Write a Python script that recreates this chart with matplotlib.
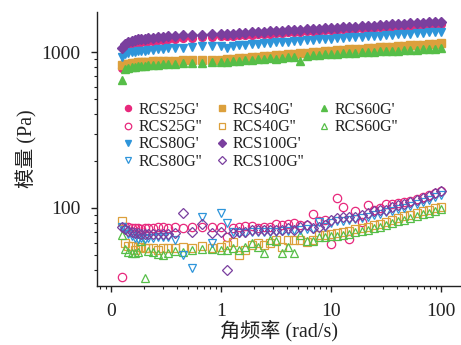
import numpy as np
import matplotlib
matplotlib.use('Agg')
import matplotlib.pyplot as plt
from matplotlib.lines import Line2D

plt.rcParams['font.family'] = ['Liberation Serif', 'Noto Sans CJK SC']

# 角频率 (rad/s)
freq = [0.126, 0.134, 0.143, 0.154, 0.165, 0.176, 0.189, 0.204, 0.217, 0.241,
        0.268, 0.297, 0.33, 0.382, 0.451, 0.545, 0.672, 0.828,
        1.0, 1.136, 1.29, 1.468, 1.668, 1.896, 2.154, 2.448, 2.783, 3.162,
        3.594, 4.084, 4.642, 5.275, 5.995, 6.813, 7.743, 8.799,
        10.0, 11.36, 12.9, 14.68, 16.68, 18.96, 21.54, 24.48, 27.83, 31.62,
        35.94, 40.84, 46.42, 52.75, 59.95, 68.13, 77.43, 87.99, 100.0]

# 储能模量 G'
rcs25_gp = [790, 1060, 1100, 1125, 1140, 1150, 1160, 1168, 1176, 1185, 1195, 1200, 1207, 1215,
            1225, 1235, 1243, 1250, 1260, 1268, 1274, 1280, 1287, 1294, 1301, 1308, 1314, 1321,
            1328, 1335, 1342, 1348, 1356, 1363, 1370, 1377, 1383, 1391, 1398, 1405, 1412, 1419,
            1427, 1434, 1441, 1448, 1456, 1464, 1471, 1478, 1486, 1494, 1502, 1509, 1517]
rcs40_gp = [825, 835, 843, 850, 854, 858, 861, 864, 867, 870, 873, 876, 879, 882, 885, 887,
            889, 890, 890, 897, 904, 911, 918, 925, 932, 939, 947, 954, 961, 969, 976, 984,
            991, 999, 1007, 1015, 1021, 1027, 1033, 1039, 1045, 1052, 1058, 1064, 1071, 1077,
            1084, 1090, 1097, 1103, 1110, 1117, 1123, 1130, 1137]
rcs60_gp = [662, 778, 790, 797, 803, 808, 813, 818, 822, 826, 830, 834, 838, 843, 848, 852,
            856, 859, 860, 866, 872, 878, 884, 890, 896, 902, 909, 905, 921, 928, 934, 880,
            947, 954, 960, 967, 971, 976, 980, 985, 989, 994, 999, 1003, 1008, 1013, 1017,
            1022, 1027, 1031, 1036, 1041, 1046, 1051, 1056]
rcs80_gp = [933, 970, 985, 995, 1003, 1010, 1016, 1022, 1028, 1035, 1042, 1048, 1054, 1060,
            1068, 1076, 1085, 1093, 1093, 1065, 1100, 1107, 1114, 1122, 1129, 1136, 1144, 1151,
            1159, 1166, 1174, 1182, 1189, 1197, 1205, 1212, 1219, 1226, 1233, 1240, 1247, 1254,
            1261, 1268, 1275, 1283, 1290, 1297, 1305, 1312, 1319, 1327, 1334, 1342, 1349]
rcs100_gp = [1061, 1125, 1160, 1185, 1195, 1205, 1212, 1220, 1229, 1238, 1248, 1254, 1258, 1266,
             1276, 1285, 1292, 1299, 1300, 1307, 1313, 1320, 1327, 1334, 1341, 1348, 1355, 1362,
             1369, 1376, 1383, 1390, 1398, 1405, 1412, 1419, 1426, 1434, 1441, 1448, 1456, 1463,
             1471, 1478, 1486, 1493, 1501, 1509, 1517, 1524, 1532, 1540, 1548, 1556, 1564]

# 损耗模量 G''
rcs25_gpp = [36.3, 76, 75, 74, 74, 74, 73, 74, 74, 74, 75, 75, 74, 75, 74, 75, 76, 75,
             76, 65.6, 74.5, 76, 77, 77, 74.5, 76, 76, 78.6, 78, 78.6, 80.5, 78, 78, 91, 82.5, 83.6,
             59, 115.6, 101, 63.7, 95, 81.6, 104.6, 97, 100, 105.7, 106, 108, 109, 111, 114, 117,
             121, 125, 129]
rcs40_gpp = [82, 59.5, 57, 57, 54, 56, 56, 55, 55, 55, 54, 55, 55, 55, 56, 55, 57, 55,
             56.5, 57.6, 60.7, 50, 54, 57.6, 60, 57.6, 60, 62, 56.5, 62, 62, 62, 60.7, 62, 67, 67,
             68, 69, 70, 71.5, 73, 74.3, 76, 78, 79.5, 81.5, 83.5, 86, 88.5, 90.5, 93, 95, 97.5,
             100, 102]
rcs60_gpp = [67, 54.6, 52.5, 51.6, 51.6, 52.5, 61, 35.5, 53, 52, 51, 50, 51.6, 53, 52.5, 54,
             54.6, 54.6, 53.5, 54, 55, 54, 56.5, 59.4, 56.5, 51.6, 62.5, 61, 51.6, 56.5, 51.6, 67,
             61, 61, 65.6, 65, 66, 66, 67.5, 68.5, 70, 71, 72.5, 74.5, 76, 78, 80, 82, 84, 86.5,
             88.5, 91, 93, 95.5, 98]
rcs80_gpp = [76, 72, 68, 66, 64, 63, 64, 63, 64, 64, 65, 65, 65, 62.5, 50, 41, 88, 60,
             93.5, 80.5, 70, 69, 69, 70, 70, 70, 70, 70, 71, 71, 72, 72, 73, 73, 81.6, 75,
             80, 82, 83, 84, 85, 86, 88, 90, 92, 94, 96, 98, 100, 103, 106, 109, 113, 117, 122]
rcs100_gpp = [76, 73, 71, 70, 69, 69, 68.5, 68, 68, 68, 68, 68, 68.5, 69, 93.5, 70, 79.5, 69.3,
              70, 40.3, 69.3, 70, 70, 72, 72, 72, 72, 72, 72, 74.3, 72, 76, 78, 74, 76, 78,
              84, 86, 88, 88, 88, 90, 93, 96, 97.5, 97.5, 101, 104, 106, 109, 112, 116, 120,
              124, 129]

c_pink = '#E8287C'
c_orange = '#DCA03C'
c_green = '#56BE48'
c_blue = '#2E95DA'
c_purple = '#7A3F9E'

fig = plt.figure(figsize=(4.61, 3.45), dpi=100)
ax = fig.add_axes([0.2104, 0.171, 0.7896, 0.794])

series = [
    ("RCS25G'", rcs25_gp, c_pink, 'o', True),
    ("RCS25G''", rcs25_gpp, c_pink, 'o', False),
    ("RCS40G'", rcs40_gp, c_orange, 's', True),
    ("RCS40G''", rcs40_gpp, c_orange, 's', False),
    ("RCS60G'", rcs60_gp, c_green, '^', True),
    ("RCS60G''", rcs60_gpp, c_green, '^', False),
    ("RCS80G'", rcs80_gp, c_blue, 'v', True),
    ("RCS80G''", rcs80_gpp, c_blue, 'v', False),
    ("RCS100G'", rcs100_gp, c_purple, 'D', True),
    ("RCS100G''", rcs100_gpp, c_purple, 'D', False),
]
handles = {}
for name, vals, col, mk, filled in series:
    ms = 5.6 if mk != 'D' else 5.0
    if filled:
        h, = ax.plot(freq, vals, ls='none', marker=mk, ms=ms, color=col, mec=col, label=name)
    else:
        h, = ax.plot(freq, vals, ls='none', marker=mk, ms=ms + 0.4, mfc='none', mec=col,
                     mew=0.9, label=name)
    handles[name] = h

ax.set_xscale('log')
ax.set_yscale('log')
ax.set_xlim(0.0746, 152)
ax.set_ylim(31.6, 1803)
ax.set_xticks([0.1, 1, 10, 100], ['0', '1', '10', '100'])
ax.set_yticks([100, 1000], ['100', '1000'])

for s in ['top', 'right']:
    ax.spines[s].set_visible(False)
for s in ['left', 'bottom']:
    ax.spines[s].set_linewidth(1.0)
    ax.spines[s].set_color('#222222')
ax.tick_params(which='major', direction='out', length=4, width=1.0, labelsize=14,
               colors='#222222')
ax.tick_params(which='minor', direction='out', length=2.2, width=0.8, colors='#222222')
ax.tick_params(axis='x', which='major', pad=8)
ax.tick_params(axis='y', which='major', pad=8)

ax.set_xlabel('角频率 (rad/s)', fontsize=14.5, labelpad=0, color='#222222')
ax.set_ylabel('模量 (Pa)', fontsize=14.5, labelpad=3, color='#222222')

blank = Line2D([], [], ls='none', marker=None)
order = ["RCS25G'", "RCS25G''", "RCS80G'", "RCS80G''",
         "RCS40G'", "RCS40G''", "RCS100G'", "RCS100G''",
         "RCS60G'", "RCS60G''"]
leg_handles = [handles[k] for k in order] + [blank, blank]
leg_labels = order + ['', '']
leg = ax.legend(leg_handles, leg_labels, ncol=3, loc='upper left',
                bbox_to_anchor=(0.063, 0.672), frameon=False, fontsize=11.5,
                handlelength=1.0, handletextpad=0.2, columnspacing=0.7,
                labelspacing=0.08, borderpad=0, borderaxespad=0, markerscale=0.78)
for t in leg.get_texts():
    t.set_color('#222222')

fig.savefig('out.png', dpi=100)
